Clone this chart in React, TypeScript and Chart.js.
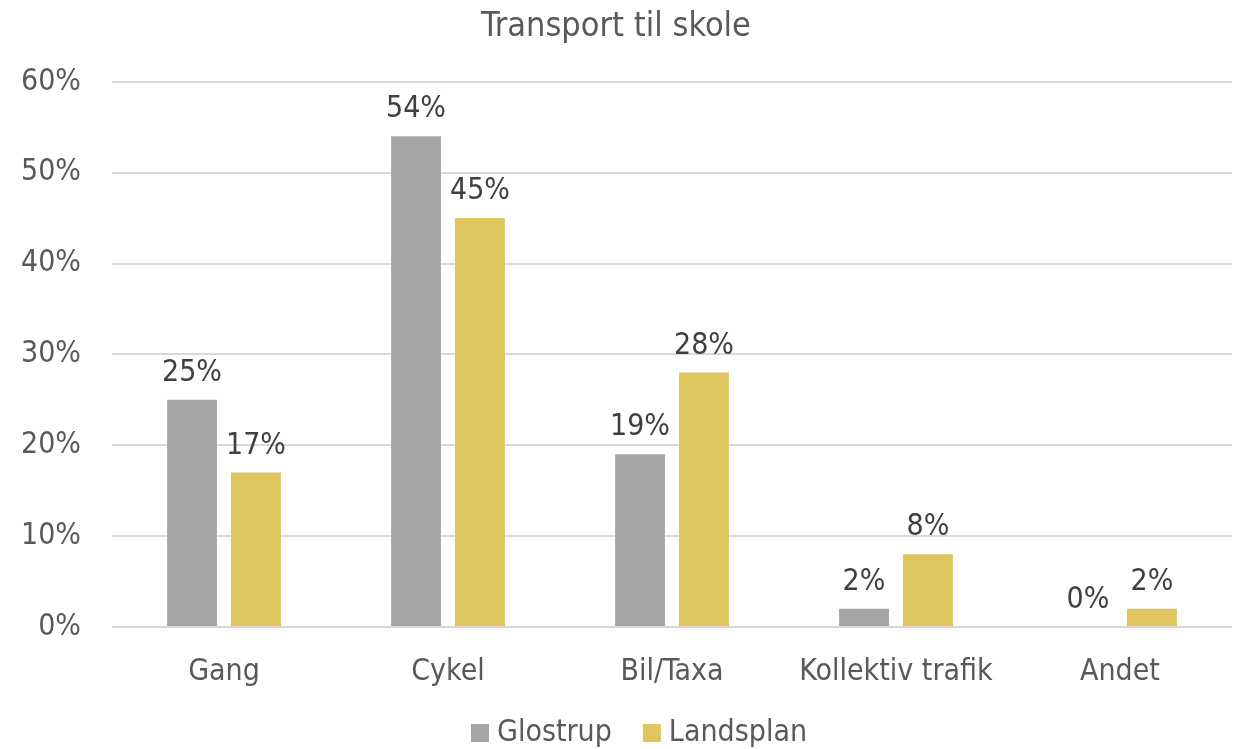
import React, { useEffect, useRef } from "react";
import { Chart, registerables } from "chart.js";

Chart.register(...registerables);

const title = "Transport til skole";
const categories = ["Gang", "Cykel", "Bil/Taxa", "Kollektiv trafik", "Andet"];
const seriesNames = ["Glostrup", "Landsplan"];
const glostrup = [25, 54, 19, 2, 0];
const landsplan = [17, 45, 28, 8, 2];
const yTicks = [0, 10, 20, 30, 40, 50, 60];
const colors = ["#A5A5A5", "#DFC55E"];

const FONT = "'DejaVu Sans Condensed', 'DejaVu Sans', sans-serif";

const labelPlugin = {
  id: "barLabels",
  afterDatasetsDraw(chart: any) {
    const ctx = chart.ctx;
    ctx.save();
    ctx.font = `30px ${FONT}`;
    ctx.fillStyle = "#404040";
    ctx.textAlign = "center";
    ctx.textBaseline = "alphabetic";
    chart.data.datasets.forEach((ds: any, di: number) => {
      const meta = chart.getDatasetMeta(di);
      meta.data.forEach((el: any, i: number) => {
        ctx.fillText(`${ds.data[i]}%`, el.x, el.y - 19);
      });
    });
    ctx.restore();
  },
};

const legendPlugin = {
  id: "customLegend",
  afterDraw(chart: any) {
    const ctx = chart.ctx;
    ctx.save();
    ctx.font = `30px ${FONT}`;
    ctx.textBaseline = "middle";
    ctx.textAlign = "left";
    const box = 18;
    const gap = 8;
    const itemGap = 31;
    const items = chart.data.datasets.map((ds: any) => ({
      label: ds.label,
      color: ds.backgroundColor,
      w: box + gap + ctx.measureText(ds.label).width,
    }));
    const total = items.reduce((s: number, it: any) => s + it.w, 0) + itemGap * (items.length - 1);
    const cx = (chart.chartArea.left + chart.chartArea.right) / 2 - 33;
    let x = cx - total / 2;
    const y = 733;
    items.forEach((it: any) => {
      ctx.fillStyle = it.color;
      ctx.fillRect(x, y - box / 2, box, box);
      ctx.fillStyle = "#595959";
      ctx.fillText(it.label, x + box + gap, y);
      x += it.w + itemGap;
    });
    ctx.restore();
  },
};

export default function App() {
  const ref = useRef<HTMLCanvasElement>(null);
  useEffect(() => {
    if (!ref.current) return;
    const chart = new Chart(ref.current, {
      type: "bar",
      data: {
        labels: categories,
        datasets: [
          { label: seriesNames[0], data: glostrup, backgroundColor: colors[0] },
          { label: seriesNames[1], data: landsplan, backgroundColor: colors[1] },
        ],
      },
      options: {
        responsive: false,
        animation: false,
        layout: { padding: { left: 0, right: 6, top: 0, bottom: 40 } },
        datasets: {
          bar: { categoryPercentage: 0.571, barPercentage: 0.78 },
        },
        plugins: {
          title: {
            display: true,
            text: title,
            color: "#595959",
            font: { family: FONT, size: 34, weight: "normal" },
            padding: { top: 7, bottom: 34 },
          },
          legend: { display: false },
          tooltip: { enabled: false },
        },
        scales: {
          x: {
            grid: { display: false },
            border: { display: false },
            ticks: { color: "#595959", font: { family: FONT, size: 30 }, padding: 19 },
          },
          y: {
            min: 0,
            max: 60,
            afterBuildTicks: (axis: any) => {
              axis.ticks = yTicks.map((v) => ({ value: v }));
            },
            afterFit: (axis: any) => {
              axis.width = 112;
            },
            grid: { color: "#D9D9D9", lineWidth: 2, drawTicks: false },
            border: { display: false },
            ticks: {
              color: "#595959",
              font: { family: FONT, size: 30 },
              padding: 31,
              callback: (v: any) => `${v}%`,
            },
          },
        },
      },
      plugins: [labelPlugin, legendPlugin],
    });
    return () => chart.destroy();
  }, []);
  return (
    <div style={{ position: "absolute", left: 0, top: 0, width: 1238, height: 749, background: "#fff" }}>
      <canvas ref={ref} width={1238} height={749} />
    </div>
  );
}
